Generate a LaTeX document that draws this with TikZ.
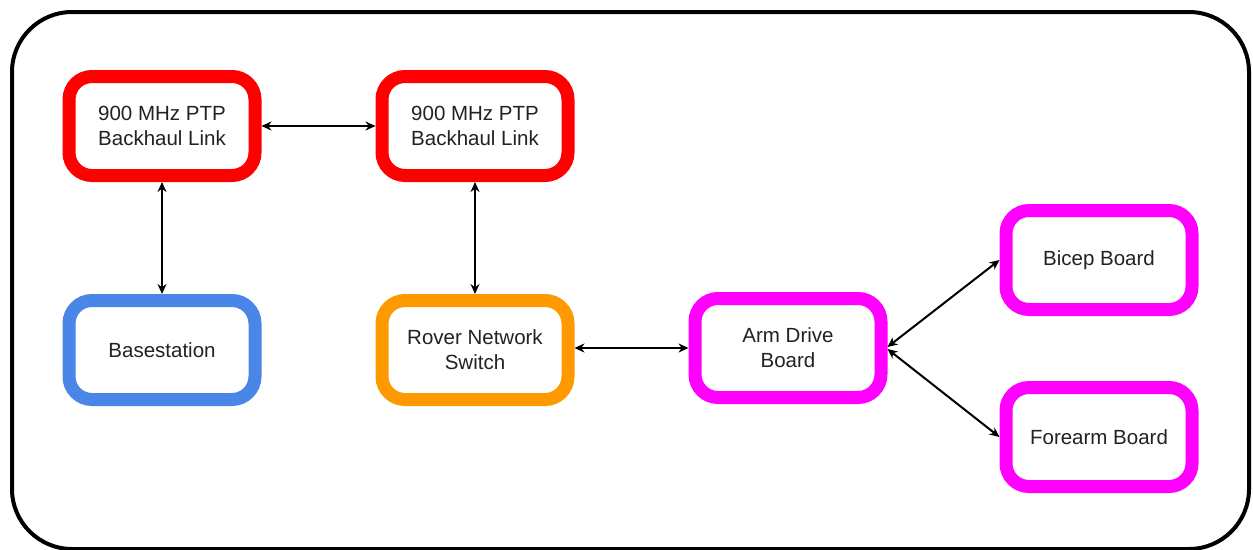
\documentclass[tikz,border=0pt]{standalone}
\usepackage{fontspec}
\setmainfont{Liberation Sans}
\usetikzlibrary{arrows.meta}
\definecolor{linkred}{HTML}{FF0000}
\definecolor{basblue}{HTML}{4A86E8}
\definecolor{sworange}{HTML}{FF9900}
\definecolor{armpink}{HTML}{FF00FF}
\definecolor{txt}{HTML}{222222}
\tikzset{
  unit/.style={draw=#1, line width=13pt, rounded corners=23pt, fill=white,
    minimum width=186pt, minimum height=99pt, align=center,
    text=txt, font=\fontsize{20.5}{25}\selectfont},
  link/.style={line width=2pt, {Stealth[length=10pt,width=9pt]}-{Stealth[length=10pt,width=9pt]}}
}
\begin{document}
\begin{tikzpicture}[x=1pt,y=-1pt]
\useasboundingbox (0,0) rectangle (1253,549);
\fill[white] (0,0) rectangle (1253,549);
% outer frame
\draw[line width=4pt, rounded corners=60pt] (12,12) rectangle (1249,549);

% nodes
\node[unit=linkred] (ptpA) at (162,126) {900 MHz PTP\\Backhaul Link};
\node[unit=linkred] (ptpB) at (475,126) {900 MHz PTP\\Backhaul Link};
\node[unit=basblue] (base) at (162,350) {Basestation};
\node[unit=sworange] (sw) at (475,350) {Rover Network\\Switch};
\node[unit=armpink] (arm) at (788,348) {Arm Drive\\Board};
\node[unit=armpink] (bicep) at (1099,260) {Bicep Board};
\node[unit=armpink] (fore) at (1099,437) {Forearm Board};

% connectors
\draw[link] (ptpA) -- (ptpB);
\draw[link] (ptpA) -- (base);
\draw[link] (ptpB) -- (sw);
\draw[link] (sw.east |- arm.west) -- (arm.west);
\draw[link] ([yshift=1pt]arm.east) -- (bicep.west);
\draw[link] ([yshift=-1pt]arm.east) -- (fore.west);
\end{tikzpicture}
\end{document}
